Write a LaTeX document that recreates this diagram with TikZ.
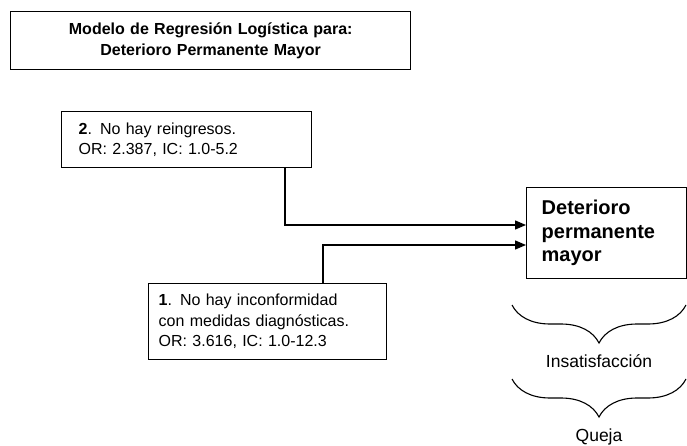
\documentclass[tikz,border=0pt]{standalone}
\usepackage{fontspec}
\setmainfont{Liberation Sans}
\usetikzlibrary{arrows.meta,decorations.pathreplacing}
\begin{document}
\begin{tikzpicture}[x=1pt,y=-1pt,
  box/.style={draw=black, line width=1.4pt, rectangle, inner ysep=0pt,
              anchor=north west, font=\fontsize{16}{20}\selectfont},
  conn/.style={line width=1.3pt, -{Triangle[length=11pt,width=9pt]}},
  curly/.style={line width=1.1pt, decorate, decoration={brace, amplitude=38pt}},
  lbl/.style={anchor=base, inner sep=0pt, font=\fontsize{17.5}{21}\selectfont}]
\useasboundingbox (0,0) rectangle (687,446);

% title
\node[box, minimum width=400pt, minimum height=58pt, text width=380pt,
      inner xsep=10pt, align=center, font=\fontsize{16}{21}\selectfont\bfseries]
  (title) at (10,11) {Modelo de Regresión Logística para:\\Deterioro Permanente Mayor};

% predictor 2
\node[box, minimum width=250pt, minimum height=56pt, text width=216pt,
      inner xsep=17pt, align=left]
  (r2) at (61,111) {\textbf{2}. No hay reingresos.\\OR: 2.387, IC: 1.0-5.2};

% predictor 1
\node[box, minimum width=238pt, minimum height=76pt, text width=218pt,
      inner xsep=10pt, align=left, font=\fontsize{16}{20.5}\selectfont]
  (r1) at (148,283) {\textbf{1}. No hay inconformidad\\con medidas diagnósticas.\\OR: 3.616, IC: 1.0-12.3};

% outcome
\node[box, minimum width=159.5pt, minimum height=91pt, text width=129.5pt,
      inner xsep=15pt, align=left, font=\fontsize{20}{23.5}\selectfont\bfseries]
  (out) at (526,187) {Deterioro\\permanente\\mayor};

% connectors
\draw[conn] ([xshift=224pt]r2.south west) |- ([yshift=-38pt]out.north west);
\draw[conn] ([xshift=175pt]r1.north west) |- ([yshift=-58pt]out.north west);

% braces and their labels
\coordinate (b1l) at (512,305);
\coordinate (b1r) at (686,305);
\coordinate (b2l) at (512,379);
\coordinate (b2r) at (686,379);
\draw[curly] (b1r) -- (b1l);
\draw[curly] (b2r) -- (b2l);
\node[lbl] (insat) at (599,367) {Insatisfacción};
\node[lbl] (queja) at (599,441) {Queja};
\end{tikzpicture}
\end{document}
